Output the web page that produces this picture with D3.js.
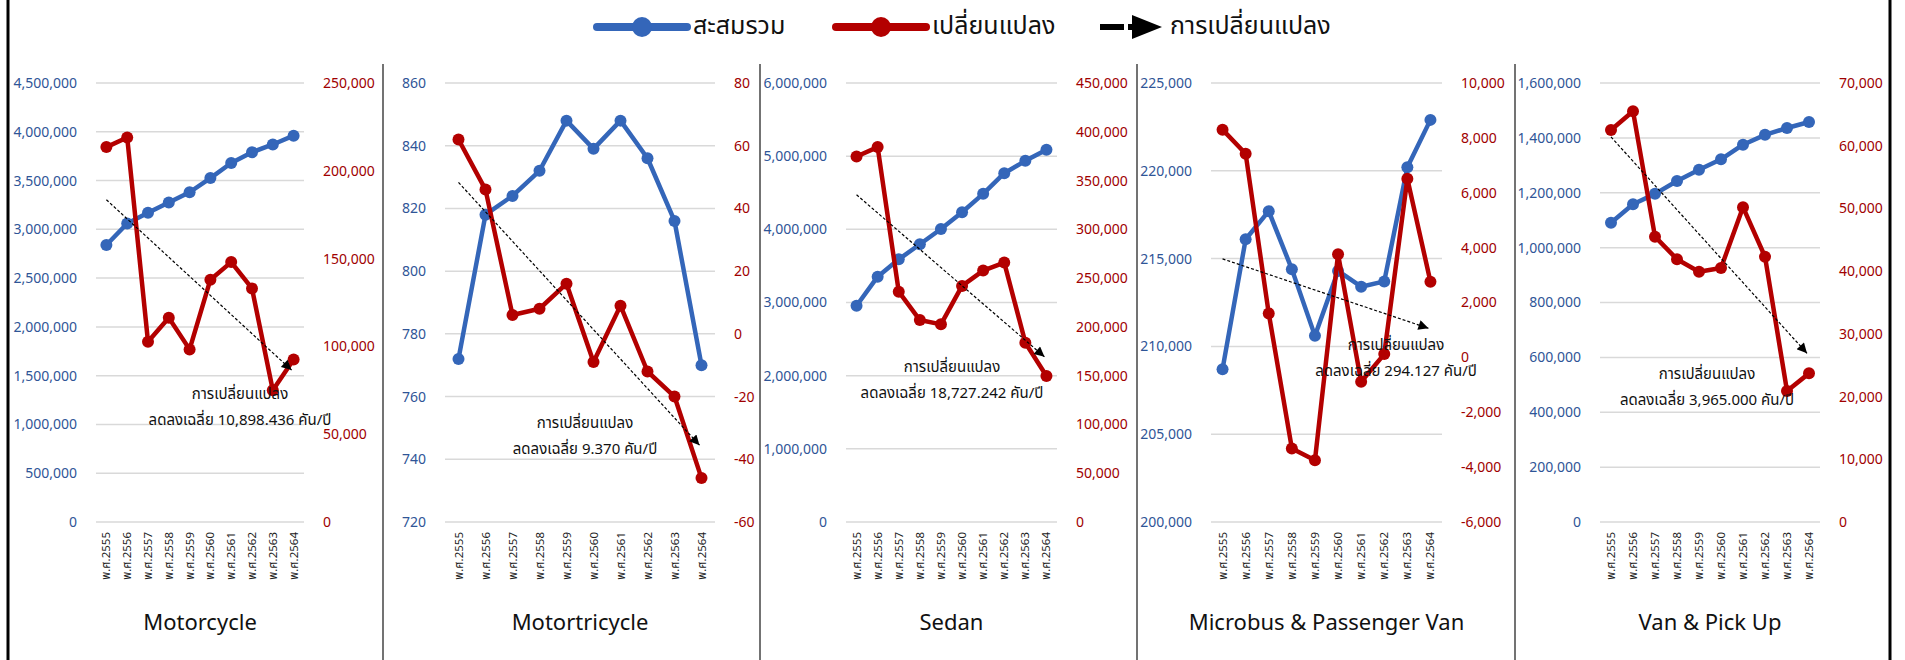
<!DOCTYPE html>
<html>
<head>
<meta charset="utf-8">
<script src="https://cdn.jsdelivr.net/npm/d3@7"></script>
<style>
  body { margin: 0; background: #fff; }
  svg text { font-family: "Noto Sans", "Noto Sans Thai", Tahoma, sans-serif; }
  .tick-left { fill: #2f5597; font-size: 14px; }
  .tick-right { fill: #a00000; font-size: 14px; }
  .xlab { fill: #222; font-size: 11.5px; }
  .title { fill: #111; font-size: 22px; }
  .note { fill: #111; font-size: 15px; }
  .legend--label { fill: #111; font-size: 25px; }
</style>
</head>
<body>
<div id="chart"></div>
<script>
// years on the x axis
var years = ["พ.ศ.2555","พ.ศ.2556","พ.ศ.2557","พ.ศ.2558","พ.ศ.2559","พ.ศ.2560","พ.ศ.2561","พ.ศ.2562","พ.ศ.2563","พ.ศ.2564"];
var panelNames = ["Motorcycle","Motortricycle","Sedan","Microbus & Passenger Van","Van & Pick Up"];

// สะสมรวม (left axis)
var cumMotorcycle    = [2840000,3060000,3170000,3275000,3380000,3525000,3680000,3790000,3870000,3960000];
var cumMotortricycle = [772,818,824,832,848,839,848,836,816,770];
var cumSedan         = [2956000,3353000,3590000,3796000,4005000,4234000,4485000,4767000,4936000,5087000];
var cumMicrobus      = [208700,216100,217700,214400,210600,214300,213400,213700,220200,222900];
var cumVan           = [1091000,1158000,1196000,1243000,1284000,1322000,1375000,1411000,1436000,1458000];

// เปลี่ยนแปลง (right axis)
var chgMotorcycle    = [213500,219000,102700,116300,98300,138000,148000,133000,75000,92600];
var chgMotortricycle = [62,46,6,8,16,-9,9,-12,-20,-46];
var chgSedan         = [374700,384300,236100,207000,202600,242000,257700,265900,183800,149600];
var chgMicrobus      = [8300,7420,1600,-3320,-3750,3760,-890,120,6510,2760];
var chgVan           = [62500,65500,45500,41900,39900,40500,50200,42300,20900,23700];

// trend arrow start / end (right axis units)
var trendStart = [183500,48.3,335400,3590,61400];
var trendEnd   = [86500,-35.5,169400,1060,26900];
var trendText  = ["ลดลงเฉลี่ย 10,898.436 คัน/ปี","ลดลงเฉลี่ย 9.370 คัน/ปี","ลดลงเฉลี่ย 18,727.242 คัน/ปี","ลดลงเฉลี่ย 294.127 คัน/ปี","ลดลงเฉลี่ย 3,965.000 คัน/ปี"];

// tick labels
var leftTicks = [
  [0,500000,1000000,1500000,2000000,2500000,3000000,3500000,4000000,4500000],
  [720,740,760,780,800,820,840,860],
  [0,1000000,2000000,3000000,4000000,5000000,6000000],
  [200000,205000,210000,215000,220000,225000],
  [0,200000,400000,600000,800000,1000000,1200000,1400000,1600000]
];
var rightTicks = [
  [0,50000,100000,150000,200000,250000],
  [-60,-40,-20,0,20,40,60,80],
  [0,50000,100000,150000,200000,250000,300000,350000,400000,450000],
  [-6000,-4000,-2000,0,2000,4000,6000,8000,10000],
  [0,10000,20000,30000,40000,50000,60000,70000]
];

var cumData = [cumMotorcycle,cumMotortricycle,cumSedan,cumMicrobus,cumVan];
var chgData = [chgMotorcycle,chgMotortricycle,chgSedan,chgMicrobus,chgVan];

// layout
var width = 1905, height = 660;
var plotTop = 83, plotBottom = 522;
var plotX = [[96,304],[445,715],[846,1057],[1211,1442],[1600,1820]];
var notePos = [[240,395],[585,424],[952,368],[1396,346],[1707,375]];
var separators = [383,760,1137,1515];

var blue = "#3466b9", red = "#b30000";
var fmt = d3.formatLocale({decimal: ".", thousands: ",", grouping: [3], currency: ["", ""], minus: "-"}).format(",");

var svg = d3.select("#chart")
  .append("svg")
    .attr("width", width)
    .attr("height", height);

svg.append("defs").append("marker")
    .attr("id", "arrow")
    .attr("viewBox", "0 0 10 10")
    .attr("refX", 10).attr("refY", 5)
    .attr("markerWidth", 12).attr("markerHeight", 10)
    .attr("markerUnits", "userSpaceOnUse")
    .attr("orient", "auto")
  .append("path")
    .attr("d", "M0,0 L10,5 L0,10 z")
    .attr("fill", "#000");

/* FRAME */
svg.append("line").attr("x1", 8).attr("x2", 8).attr("y1", 0).attr("y2", height)
  .attr("stroke", "#000").attr("stroke-width", 3);
svg.append("line").attr("x1", 1890).attr("x2", 1890).attr("y1", 0).attr("y2", height)
  .attr("stroke", "#000").attr("stroke-width", 3);
separators.forEach(function(sx) {
  svg.append("line").attr("x1", sx).attr("x2", sx).attr("y1", 64).attr("y2", height)
    .attr("stroke", "#444").attr("stroke-width", 1.5);
});

/* PANELS */
panelNames.forEach(function(name, p) {
  var g = svg.append("g");

  var x = d3.scaleBand().domain(years).range(plotX[p]).padding(0);
  var cx = function(d, i) { return x(years[i]) + x.bandwidth() / 2; };

  var lt = leftTicks[p], rt = rightTicks[p];
  var yL = d3.scaleLinear().domain([lt[0], lt[lt.length - 1]]).range([plotBottom, plotTop]);
  var yR = d3.scaleLinear().domain([rt[0], rt[rt.length - 1]]).range([plotBottom, plotTop]);

  // gridlines
  g.selectAll(".grid").data(lt).enter().append("line")
    .attr("x1", plotX[p][0]).attr("x2", plotX[p][1])
    .attr("y1", function(d) { return yL(d); })
    .attr("y2", function(d) { return yL(d); })
    .attr("stroke", "#d9d9d9").attr("stroke-width", 1.5);

  // left axis
  var axL = g.append("g")
    .attr("transform", "translate(" + plotX[p][0] + ",0)")
    .call(d3.axisLeft(yL).tickValues(lt).tickSize(0).tickPadding(19).tickFormat(fmt));
  axL.select(".domain").remove();
  axL.selectAll("text").attr("class", "tick-left").attr("fill", null).attr("font-size", null).attr("font-family", null);

  // right axis
  var axR = g.append("g")
    .attr("transform", "translate(" + plotX[p][1] + ",0)")
    .call(d3.axisRight(yR).tickValues(rt).tickSize(0).tickPadding(19).tickFormat(fmt));
  axR.select(".domain").remove();
  axR.selectAll("text").attr("class", "tick-right").attr("fill", null).attr("font-size", null).attr("font-family", null);

  // x labels, rotated
  g.selectAll(".xlab").data(years).enter().append("text")
    .attr("class", "xlab")
    .attr("transform", function(d, i) { return "translate(" + (cx(d, i) + 4) + "," + (plotBottom + 10) + ") rotate(-90)"; })
    .attr("text-anchor", "end")
    .text(function(d) { return d; });

  // title
  g.append("text")
    .attr("class", "title")
    .attr("x", (plotX[p][0] + plotX[p][1]) / 2)
    .attr("y", 630)
    .attr("text-anchor", "middle")
    .text(name);

  // สะสมรวม line
  var lineL = d3.line().x(cx).y(function(d) { return yL(d); });
  g.append("path").datum(cumData[p])
    .attr("d", lineL)
    .attr("fill", "none").attr("stroke", blue).attr("stroke-width", 4.5)
    .attr("stroke-linejoin", "round");
  g.selectAll(".ptL").data(cumData[p]).enter().append("circle")
    .attr("cx", cx).attr("cy", function(d) { return yL(d); })
    .attr("r", 6).attr("fill", blue);

  // เปลี่ยนแปลง line
  var lineR = d3.line().x(cx).y(function(d) { return yR(d); });
  g.append("path").datum(chgData[p])
    .attr("d", lineR)
    .attr("fill", "none").attr("stroke", red).attr("stroke-width", 4.5)
    .attr("stroke-linejoin", "round");
  g.selectAll(".ptR").data(chgData[p]).enter().append("circle")
    .attr("cx", cx).attr("cy", function(d) { return yR(d); })
    .attr("r", 6).attr("fill", red);

  // trend arrow
  g.append("line")
    .attr("x1", cx(null, 0)).attr("y1", yR(trendStart[p]))
    .attr("x2", cx(null, years.length - 1) - 2).attr("y2", yR(trendEnd[p]))
    .attr("stroke", "#000").attr("stroke-width", 1.2)
    .attr("stroke-dasharray", "3,2")
    .attr("marker-end", "url(#arrow)");

  // annotation
  g.append("text").attr("class", "note")
    .attr("x", notePos[p][0]).attr("y", notePos[p][1])
    .attr("text-anchor", "middle").attr("dominant-baseline", "middle")
    .text("การเปลี่ยนแปลง");
  g.append("text").attr("class", "note")
    .attr("x", notePos[p][0]).attr("y", notePos[p][1] + 26)
    .attr("text-anchor", "middle").attr("dominant-baseline", "middle")
    .text(trendText[p]);
});

/* LEGEND */
var lg = svg.append("g");
var legendY = 27;
[[597, blue, "สะสมรวม"], [836, red, "เปลี่ยนแปลง"]].forEach(function(d) {
  lg.append("line").attr("x1", d[0]).attr("x2", d[0] + 90).attr("y1", legendY).attr("y2", legendY)
    .attr("stroke", d[1]).attr("stroke-width", 8).attr("stroke-linecap", "round");
  lg.append("circle").attr("cx", d[0] + 45).attr("cy", legendY).attr("r", 10).attr("fill", d[1]);
  lg.append("text").attr("class", "legend--label")
    .attr("x", d[0] + 96).attr("y", legendY).attr("dominant-baseline", "middle")
    .text(d[2]);
});
lg.append("rect").attr("x", 1100).attr("y", legendY - 3).attr("width", 24).attr("height", 6).attr("fill", "#000");
lg.append("path").attr("d", "M1132," + (legendY - 12) + " L1162," + legendY + " L1132," + (legendY + 12) + " z").attr("fill", "#000");
lg.append("rect").attr("x", 1128).attr("y", legendY - 3).attr("width", 8).attr("height", 6).attr("fill", "#000");
lg.append("text").attr("class", "legend--label")
  .attr("x", 1170).attr("y", legendY).attr("dominant-baseline", "middle")
  .text("การเปลี่ยนแปลง");
</script>
</body>
</html>
